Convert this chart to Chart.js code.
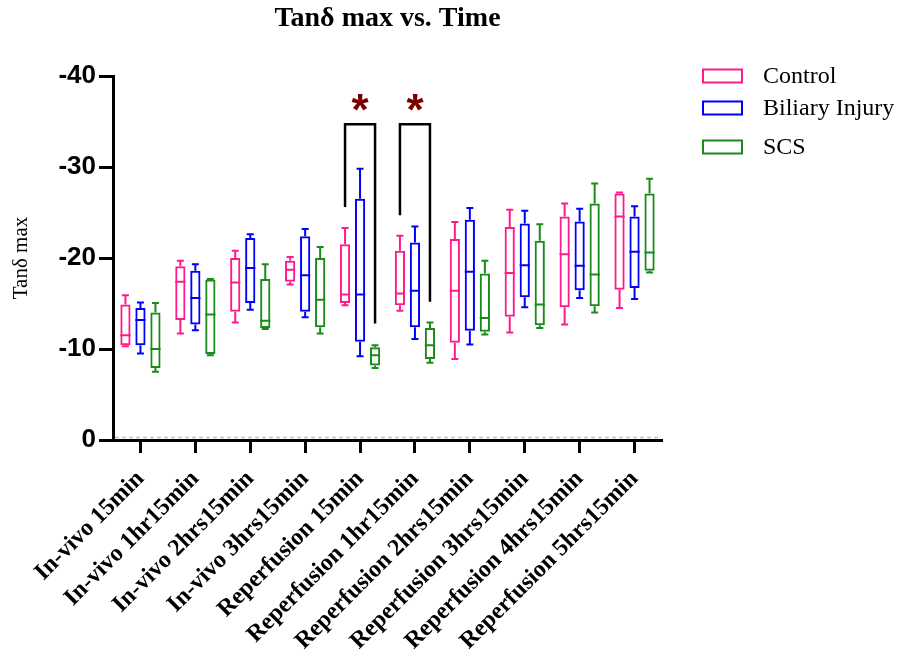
<!DOCTYPE html>
<html>
<head>
<meta charset="utf-8">
<script src="https://cdn.jsdelivr.net/npm/chart.js@4.4.0/dist/chart.umd.min.js"></script>
<style>
  html, body { margin: 0; padding: 0; background: #fff; }
</style>
</head>
<body>
<canvas id="myChart" width="899" height="659"></canvas>
<script>
const ctx = document.getElementById('myChart');

const categories = ['In-vivo 15min', 'In-vivo 1hr15min', 'In-vivo 2hrs15min', 'In-vivo 3hrs15min',
  'Reperfusion 15min', 'Reperfusion 1hr15min', 'Reperfusion 2hrs15min', 'Reperfusion 3hrs15min',
  'Reperfusion 4hrs15min', 'Reperfusion 5hrs15min'];

const seriesNames = ['Control', 'Biliary Injury', 'SCS'];
const seriesColors = ['#ff1a8c', '#0000ff', '#1a8a1a'];

// each entry: [min, q1, median, q3, max]  (values are negative, min = most negative)
const controlStats = [
  [-15.9, -14.9, -11.5, -10.4, -10.3],
  [-19.7, -19.1, -17.4, -13.2, -11.7],
  [-20.8, -20.0, -17.3, -14.1, -12.9],
  [-20.1, -19.7, -18.7, -17.4, -17.1],
  [-23.3, -21.5, -16.0, -15.05, -14.8],
  [-22.45, -20.8, -16.1, -14.8, -14.2],
  [-23.95, -22.1, -16.4, -10.7, -8.9],
  [-25.3, -23.4, -18.35, -13.55, -11.8],
  [-26.0, -24.55, -20.4, -14.6, -12.7],
  [-27.2, -27.1, -24.55, -16.5, -14.5]
];
const biliaryStats = [
  [-15.1, -14.5, -13.2, -10.4, -9.5],
  [-19.3, -18.6, -15.6, -12.7, -12.05],
  [-22.6, -22.2, -18.9, -15.05, -14.3],
  [-23.2, -22.4, -18.1, -14.1, -13.5],
  [-29.8, -26.5, -16.0, -10.8, -9.2],
  [-23.45, -21.7, -16.4, -12.4, -11.1],
  [-25.5, -24.2, -18.5, -12.0, -10.5],
  [-25.2, -23.8, -19.2, -15.7, -14.6],
  [-25.4, -24.0, -19.15, -16.45, -15.6],
  [-25.7, -24.55, -20.7, -16.7, -15.5]
];
const scsStats = [
  [-15.05, -14.0, -10.0, -7.9, -7.5],
  [-17.7, -17.65, -13.8, -9.45, -9.3],
  [-19.3, -17.7, -13.1, -12.3, -12.2],
  [-21.2, -20.0, -15.4, -12.4, -11.7],
  [-10.4, -10.2, -9.3, -8.2, -7.9],
  [-12.9, -12.3, -10.4, -8.9, -8.5],
  [-19.7, -18.3, -13.4, -11.9, -11.6],
  [-23.7, -21.9, -14.9, -12.6, -12.3],
  [-28.2, -26.0, -18.2, -14.7, -14.0],
  [-28.7, -27.1, -20.6, -18.6, -18.4]
];
const allStats = [controlStats, biliaryStats, scsStats];

// significance brackets: category index, bracket top, left leg end, right leg end, star position
const sigIndex = [4, 5];
const sigTop = [-34.7, -34.7];
const sigLeft = [-25.6, -24.7];
const sigRight = [-12.8, -15.2];
const sigStar = [-37.2, -37.2];

const serif = '"Liberation Serif", "Times New Roman", serif';
const sans = '"Liberation Sans", Arial, sans-serif';

// whiskers + median lines on top of the floating bars
const boxPlugin = {
  id: 'boxWhiskers',
  afterDatasetsDraw(chart) {
    const c = chart.ctx;
    const y = chart.scales.y;
    chart.data.datasets.forEach((ds, i) => {
      const meta = chart.getDatasetMeta(i);
      meta.data.forEach((bar, j) => {
        const s = allStats[i][j];
        const half = bar.width / 2;
        const cap = 3.5;
        const pMin = y.getPixelForValue(s[0]);
        const pQ1 = y.getPixelForValue(s[1]);
        const pMed = y.getPixelForValue(s[2]);
        const pQ3 = y.getPixelForValue(s[3]);
        const pMax = y.getPixelForValue(s[4]);
        c.save();
        c.strokeStyle = ds.borderColor;
        c.lineWidth = 2;
        c.beginPath();
        c.moveTo(bar.x - half, pMed); c.lineTo(bar.x + half, pMed);
        c.moveTo(bar.x, pQ1); c.lineTo(bar.x, pMin);
        c.moveTo(bar.x - cap, pMin); c.lineTo(bar.x + cap, pMin);
        c.moveTo(bar.x, pQ3); c.lineTo(bar.x, pMax);
        c.moveTo(bar.x - cap, pMax); c.lineTo(bar.x + cap, pMax);
        c.stroke();
        c.restore();
      });
    });
  }
};

// dashed zero line, significance brackets and the legend
const extrasPlugin = {
  id: 'extras',
  beforeDatasetsDraw(chart) {
    const c = chart.ctx;
    const area = chart.chartArea;
    const y0 = chart.scales.y.getPixelForValue(0) - 2.5;
    c.save();
    c.strokeStyle = '#c4c4c4';
    c.lineWidth = 1.5;
    c.setLineDash([4, 3]);
    c.beginPath();
    c.moveTo(area.left + 2, y0);
    c.lineTo(area.right - 3, y0);
    c.stroke();
    c.restore();
  },
  afterDraw(chart) {
    const c = chart.ctx;
    const y = chart.scales.y;
    const m0 = chart.getDatasetMeta(0);
    const m2 = chart.getDatasetMeta(2);

    sigIndex.forEach((idx, k) => {
      const xl = m0.data[idx].x;
      const xr = m2.data[idx].x;
      c.save();
      c.strokeStyle = '#000';
      c.lineWidth = 2.5;
      c.beginPath();
      c.moveTo(xl, y.getPixelForValue(sigLeft[k]));
      c.lineTo(xl, y.getPixelForValue(sigTop[k]));
      c.lineTo(xr, y.getPixelForValue(sigTop[k]));
      c.lineTo(xr, y.getPixelForValue(sigRight[k]));
      c.stroke();
      c.fillStyle = '#7a0000';
      c.font = 'bold 44px ' + sans;
      c.textAlign = 'center';
      c.textBaseline = 'alphabetic';
      c.fillText('*', (xl + xr) / 2, y.getPixelForValue(sigStar[k]) + 0.53 * 44);
      c.restore();
    });

    // legend
    const lx = chart.chartArea.right + 41;
    const rows = [76, 108, 147];
    c.save();
    seriesNames.forEach((name, i) => {
      c.strokeStyle = seriesColors[i];
      c.lineWidth = 2;
      c.strokeRect(lx, rows[i] - 6.5, 39, 13);
      c.fillStyle = '#000';
      c.font = '24px ' + serif;
      c.textAlign = 'left';
      c.textBaseline = 'middle';
      c.fillText(name, lx + 60, rows[i] + 1);
    });
    c.restore();
  }
};

new Chart(ctx, {
  type: 'bar',
  data: {
    labels: categories,
    datasets: seriesNames.map((name, i) => ({
      label: name,
      data: allStats[i].map(s => [s[1], s[3]]),
      backgroundColor: 'rgba(255,255,255,0)',
      borderColor: seriesColors[i],
      borderWidth: 2,
      borderSkipped: false,
      barPercentage: 0.68,
      categoryPercentage: 0.82
    }))
  },
  options: {
    responsive: false,
    animation: false,
    layout: { padding: { top: 0, left: 0, bottom: 0, right: 237 } },
    plugins: {
      legend: { display: false },
      tooltip: { enabled: false },
      title: {
        display: true,
        text: 'Tanδ max vs. Time',
        fullSize: false,
        color: '#000',
        font: { family: serif, size: 28, weight: 'bold' },
        padding: { top: 2, bottom: 40.4 }
      }
    },
    scales: {
      x: {
        offset: true,
        border: { display: true, color: '#000', width: 3 },
        grid: { display: true, drawOnChartArea: false, drawTicks: true, tickLength: 13, tickWidth: 3, tickColor: '#000', offset: false },
        ticks: {
          color: '#000',
          minRotation: 45,
          maxRotation: 45,
          padding: 12,
          autoSkip: false,
          font: { family: serif, size: 24, weight: 'bold' }
        },
        afterFit(scale) { scale.height = 219; }
      },
      y: {
        reverse: true,
        min: -40,
        max: 0,
        border: { display: true, color: '#000', width: 3 },
        grid: { display: true, drawOnChartArea: false, drawTicks: true, tickLength: 14, tickWidth: 3, tickColor: '#000' },
        ticks: {
          stepSize: 10,
          color: '#000',
          padding: 3,
          font: { family: sans, size: 26, weight: 'bold' }
        },
        title: {
          display: true,
          text: 'Tanδ max',
          color: '#000',
          font: { family: serif, size: 21 },
          padding: { top: 9, bottom: 0 }
        },
        afterFit(scale) { scale.width = 113; }
      }
    }
  },
  plugins: [boxPlugin, extrasPlugin]
});
</script>
</body>
</html>
